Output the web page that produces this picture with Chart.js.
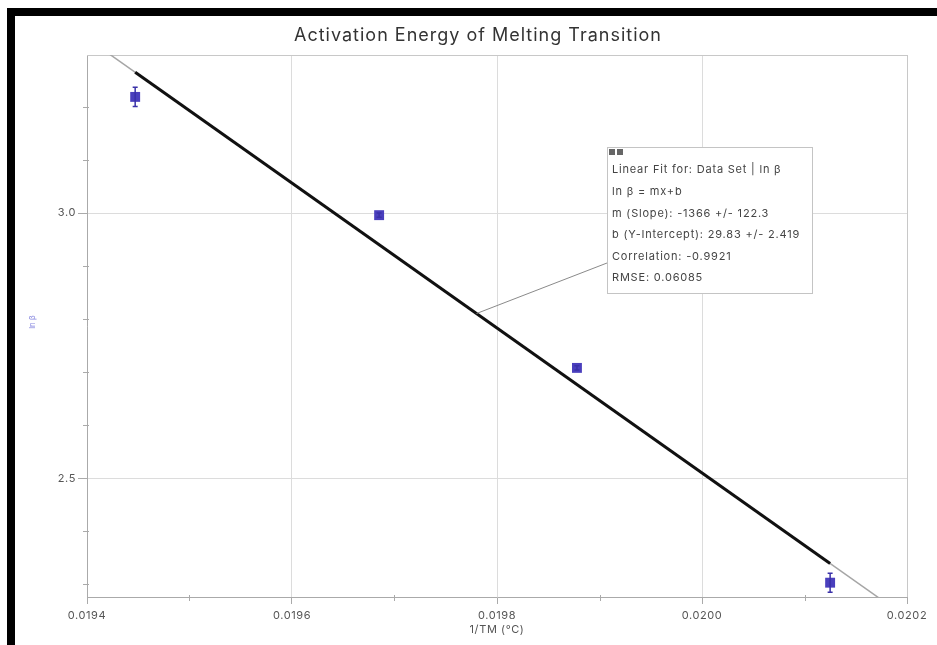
<!DOCTYPE html>
<html>
<head>
<meta charset="utf-8">
<title>Activation Energy of Melting Transition</title>
<script src="https://cdn.jsdelivr.net/npm/chart.js@4"></script>
<style>
  html, body { margin: 0; padding: 0; background: #fff; }
  canvas { display: block; }
</style>
</head>
<body>
<canvas id="chart" width="937" height="645"></canvas>
<script>
// ln(heating rate) vs. inverse melting temperature
const invTm = [0.019447, 0.019685, 0.019878, 0.020125];
const lnBeta = [3.219, 2.996, 2.708, 2.303];
const lnBetaErr = [0.018, 0.004, 0.004, 0.018];

const xTicks = [0.0194, 0.0196, 0.0198, 0.0200, 0.0202];
const xMinor = [0.0195, 0.0197, 0.0199, 0.0201];
const yTicks = [2.5, 3.0];
const yMinor = [2.3, 2.4, 2.6, 2.7, 2.8, 2.9, 3.1, 3.2];

// linear fit
const slope = -1366;
const intercept = 29.83;
const fitText = [
  "Linear Fit for: Data Set | ln β",
  "ln β = mx+b",
  "m (Slope): -1366 +/- 122.3",
  "b (Y-Intercept): 29.83 +/- 2.419",
  "Correlation: -0.9921",
  "RMSE: 0.06085"
];
const calloutAt = 0.01978;

const FONT = "Inter, 'Liberation Sans', sans-serif";
const fitY = x => slope * x + intercept;

const xLo = Math.min(...invTm);
const xHi = Math.max(...invTm);

const extras = {
  id: 'extras',
  beforeDraw(chart) {
    const ctx = chart.ctx;
    ctx.save();
    ctx.fillStyle = '#fff';
    ctx.fillRect(0, 0, chart.width, chart.height);
    ctx.restore();
    // slightly open spacing for the tick labels
    ctx.letterSpacing = '0.6px';
  },
  beforeDatasetsDraw(chart) {
    const { ctx, chartArea: a, scales: { x, y } } = chart;
    ctx.save();
    // frame on top and right
    ctx.strokeStyle = '#c8c8c8';
    ctx.lineWidth = 1;
    ctx.beginPath();
    ctx.moveTo(a.left, Math.round(a.top) + 0.5);
    ctx.lineTo(a.right, Math.round(a.top) + 0.5);
    ctx.moveTo(Math.round(a.right) + 0.5, a.top);
    ctx.lineTo(Math.round(a.right) + 0.5, a.bottom);
    ctx.stroke();
    // minor ticks
    ctx.strokeStyle = '#aaa';
    ctx.beginPath();
    xMinor.forEach(v => {
      const px = Math.round(x.getPixelForValue(v)) + 0.5;
      ctx.moveTo(px, a.bottom - 2);
      ctx.lineTo(px, a.bottom + 4);
    });
    yMinor.forEach(v => {
      const py = Math.round(y.getPixelForValue(v)) + 0.5;
      ctx.moveTo(a.left - 4, py);
      ctx.lineTo(a.left + 2, py);
    });
    ctx.stroke();
    ctx.restore();
  },
  afterDatasetsDraw(chart) {
    const { ctx, scales: { x, y } } = chart;
    ctx.save();
    ctx.strokeStyle = '#3a31a8';
    ctx.lineWidth = 1.5;
    invTm.forEach((xv, i) => {
      const px = x.getPixelForValue(xv);
      const top = y.getPixelForValue(lnBeta[i] + lnBetaErr[i]);
      const bot = y.getPixelForValue(lnBeta[i] - lnBetaErr[i]);
      ctx.beginPath();
      ctx.moveTo(px, top);
      ctx.lineTo(px, bot);
      ctx.moveTo(px - 2.5, top);
      ctx.lineTo(px + 2.5, top);
      ctx.moveTo(px - 2.5, bot);
      ctx.lineTo(px + 2.5, bot);
      ctx.stroke();
    });
    ctx.restore();
  },
  afterDraw(chart) {
    const { ctx, chartArea: a, scales: { x, y } } = chart;
    ctx.save();

    // title
    ctx.fillStyle = '#333';
    ctx.font = `18px ${FONT}`;
    ctx.letterSpacing = '1px';
    ctx.textAlign = 'center';
    ctx.textBaseline = 'middle';
    ctx.fillText('Activation Energy of Melting Transition', 478, 36);

    // axis titles
    ctx.fillStyle = '#555';
    ctx.font = `11px ${FONT}`;
    ctx.letterSpacing = '0.6px';
    ctx.fillText('1/TM (°C)', (a.left + a.right) / 2, 630);
    ctx.save();
    ctx.translate(33, 322);
    ctx.rotate(-Math.PI / 2);
    ctx.fillStyle = '#8a8ae0';
    ctx.font = `8px ${FONT}`;
    ctx.letterSpacing = '0px';
    ctx.fillText('ln β', 0, 0);
    ctx.restore();

    // callout box with fit results
    const bx = 607, by = 147, bw = 205, bh = 146;
    ctx.strokeStyle = '#8a8a8a';
    ctx.lineWidth = 1;
    ctx.beginPath();
    ctx.moveTo(bx, 263);
    ctx.lineTo(x.getPixelForValue(calloutAt), y.getPixelForValue(fitY(calloutAt)));
    ctx.stroke();

    ctx.fillStyle = '#fff';
    ctx.fillRect(bx, by, bw, bh);
    ctx.strokeStyle = '#c4c4c4';
    ctx.strokeRect(bx + 0.5, by + 0.5, bw, bh);
    ctx.fillStyle = '#666';
    ctx.fillRect(bx + 2, by + 2, 6, 6);
    ctx.fillRect(bx + 10, by + 2, 6, 6);

    ctx.fillStyle = '#444';
    ctx.font = `11px ${FONT}`;
    ctx.letterSpacing = '0.8px';
    ctx.textAlign = 'left';
    fitText.forEach((t, i) => ctx.fillText(t, bx + 5, 170 + i * 21.6));

    // heavy frame along top and left
    ctx.fillStyle = '#000';
    ctx.fillRect(7, 8, chart.width - 7, 8);
    ctx.fillRect(7, 8, 8, chart.height - 8);
    ctx.restore();
  }
};

new Chart(document.getElementById('chart'), {
  type: 'scatter',
  data: {
    datasets: [
      {
        label: 'ln β',
        data: invTm.map((v, i) => ({ x: v, y: lnBeta[i] })),
        pointStyle: 'rect',
        pointRadius: 7,
        backgroundColor: '#4a3fbd',
        borderWidth: 0,
        order: 0
      },
      {
        label: 'fit',
        data: [{ x: xLo, y: fitY(xLo) }, { x: xHi, y: fitY(xHi) }],
        showLine: true,
        borderColor: '#111',
        borderWidth: 3,
        pointRadius: 0,
        order: 1
      },
      {
        label: 'fit extended',
        data: [{ x: 0.0194, y: fitY(0.0194) }, { x: 0.0202, y: fitY(0.0202) }],
        showLine: true,
        borderColor: '#a6a6a6',
        borderWidth: 1.5,
        pointRadius: 0,
        clip: 0,
        order: 2
      }
    ]
  },
  options: {
    responsive: false,
    animation: false,
    events: [],
    layout: { padding: { top: 55, left: 16, right: 30, bottom: 0 } },
    plugins: { legend: { display: false }, tooltip: { enabled: false }, title: { display: false } },
    scales: {
      x: {
        type: 'linear',
        min: 0.0194,
        max: 0.0202,
        afterBuildTicks: s => { s.ticks = xTicks.map(v => ({ value: v })); },
        afterFit: s => { s.height = 48; },
        grid: { color: '#dcdcdc', tickColor: '#aaa', tickLength: 7 },
        border: { color: '#aaa' },
        ticks: {
          font: { family: FONT, size: 11 },
          color: '#555',
          padding: 5,
          maxRotation: 0,
          callback: v => v.toFixed(4)
        }
      },
      y: {
        type: 'linear',
        min: 2.276,
        max: 3.298,
        afterBuildTicks: s => { s.ticks = yTicks.map(v => ({ value: v })); },
        afterFit: s => { s.width = 71; },
        grid: { color: '#dcdcdc', tickColor: '#aaa', tickLength: 9 },
        border: { color: '#aaa' },
        ticks: {
          font: { family: FONT, size: 11 },
          color: '#555',
          padding: 2,
          callback: v => v.toFixed(1)
        }
      }
    }
  },
  plugins: [extras]
});
</script>
</body>
</html>
